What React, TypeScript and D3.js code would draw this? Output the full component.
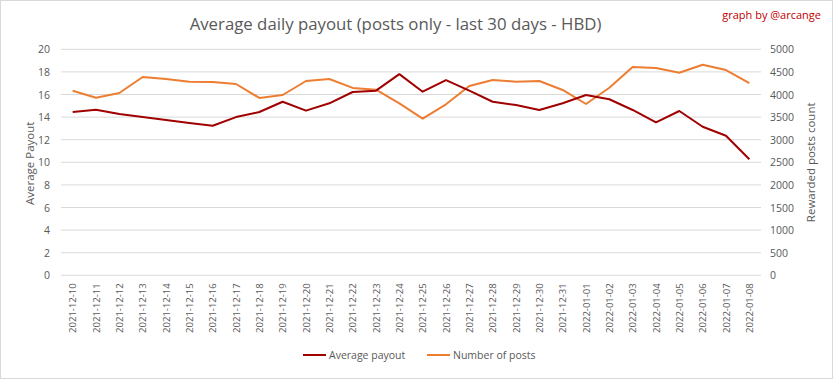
import React from "react";
import * as d3 from "d3";

const dates = [
  "2021-12-10","2021-12-11","2021-12-12","2021-12-13","2021-12-14","2021-12-15",
  "2021-12-16","2021-12-17","2021-12-18","2021-12-19","2021-12-20","2021-12-21",
  "2021-12-22","2021-12-23","2021-12-24","2021-12-25","2021-12-26","2021-12-27",
  "2021-12-28","2021-12-29","2021-12-30","2021-12-31","2022-01-01","2022-01-02",
  "2022-01-03","2022-01-04","2022-01-05","2022-01-06","2022-01-07","2022-01-08",
];

const avgPayout = [
  14.45, 14.65, 14.27, 14.0, 13.74, 13.48, 13.24, 14.0, 14.45, 15.36,
  14.57, 15.22, 16.22, 16.34, 17.8, 16.25, 17.28, 16.34, 15.36, 15.07,
  14.63, 15.22, 15.96, 15.58, 14.63, 13.54, 14.54, 13.15, 12.35, 10.27,
];

const numPosts = [
  4084, 3929, 4033, 4387, 4343, 4283, 4277, 4232, 3923, 3989,
  4299, 4343, 4146, 4106, 3805, 3465, 3783, 4188, 4321, 4283,
  4299, 4100, 3790, 4150, 4608, 4586, 4482, 4659, 4542, 4254,
];

const leftTicks = [0, 2, 4, 6, 8, 10, 12, 14, 16, 18, 20];
const rightTicks = [0, 500, 1000, 1500, 2000, 2500, 3000, 3500, 4000, 4500, 5000];

const W = 833;
const H = 379;
const plot = { left: 61, right: 761, top: 49.3, bottom: 275.3 };
const RED = "#A00000";
const ORANGE = "#ED7D31";
const GRID = "#D9D9D9";
const TXT = "#595959";
const FONT = "'Open Sans', 'Liberation Sans', sans-serif";

export default function App() {
  const x = d3.scaleBand<string>().domain(dates).range([plot.left, plot.right]);
  const cx = (d: string) => (x(d) as number) + x.bandwidth() / 2;
  const yL = d3.scaleLinear().domain([0, 20]).range([plot.bottom, plot.top]);
  const yR = d3.scaleLinear().domain([0, 5000]).range([plot.bottom, plot.top]);

  const lineL = d3.line<number>().x((_, i) => cx(dates[i])).y((v) => yL(v));
  const lineR = d3.line<number>().x((_, i) => cx(dates[i])).y((v) => yR(v));

  return (
    <svg
      width={W}
      height={H}
      style={{ position: "absolute", left: 0, top: 0, background: "#fff" }}
      fontFamily={FONT}
    >
      <rect x={0.5} y={0.5} width={W - 1} height={H - 1} fill="#fff" stroke={GRID} />
      <text x={395.5} y={30} textAnchor="middle" fontSize={16.8} fill={TXT}>
        Average daily payout (posts only - last 30 days - HBD)
      </text>
      <text x={821} y={19} textAnchor="end" fontSize={11} fill="#C00000">
        graph by @arcange
      </text>

      {leftTicks.map((t) => (
        <line key={t} x1={plot.left} x2={plot.right} y1={yL(t)} y2={yL(t)} stroke={GRID} strokeWidth={1} />
      ))}
      {leftTicks.map((t) => (
        <text key={"l" + t} x={50} y={yL(t) + 4} textAnchor="end" fontSize={10.5} fill={TXT}>
          {t}
        </text>
      ))}
      {rightTicks.map((t) => (
        <text key={"r" + t} x={770} y={yR(t) + 4} textAnchor="start" fontSize={10.5} fill={TXT}>
          {t}
        </text>
      ))}

      <text
        transform={`translate(34,${(plot.top + plot.bottom) / 2 + 1}) rotate(-90)`}
        textAnchor="middle"
        fontSize={11.5}
        fill={TXT}
      >
        Average Payout
      </text>
      <text
        transform={`translate(815,${(plot.top + plot.bottom) / 2}) rotate(-90)`}
        textAnchor="middle"
        fontSize={11.5}
        fill={TXT}
      >
        Rewarded posts  count
      </text>

      {dates.map((d) => (
        <text
          key={d}
          transform={`translate(${cx(d) + 3.5},${plot.bottom + 8}) rotate(-90)`}
          textAnchor="end"
          fontSize={9.5}
          fill={TXT}
        >
          {d}
        </text>
      ))}

      <path d={lineR(numPosts) || ""} fill="none" stroke={ORANGE} strokeWidth={2} strokeLinejoin="round" />
      <path d={lineL(avgPayout) || ""} fill="none" stroke={RED} strokeWidth={2} strokeLinejoin="round" />

      <line x1={303} x2={326} y1={355} y2={355} stroke={RED} strokeWidth={2} />
      <text x={329} y={359} fontSize={10.5} fill={TXT}>Average payout</text>
      <line x1={427} x2={450} y1={355} y2={355} stroke={ORANGE} strokeWidth={2} />
      <text x={453} y={359} fontSize={10.5} fill={TXT}>Number of posts</text>
    </svg>
  );
}
